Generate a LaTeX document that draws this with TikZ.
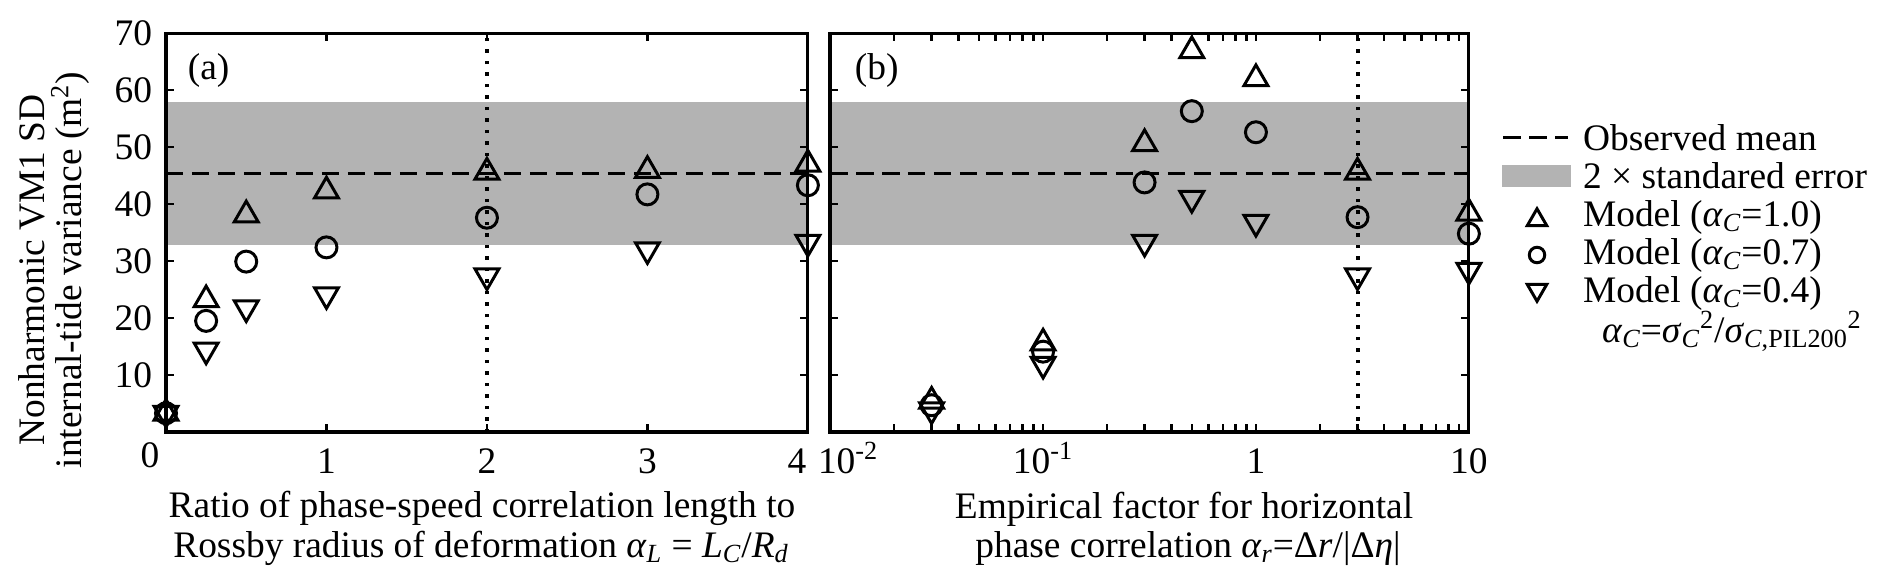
\documentclass[tikz,border=0pt]{standalone}
\usepackage{fontspec}
\setmainfont{Liberation Serif}
\usetikzlibrary{shapes.geometric}
\definecolor{bandgrey}{RGB}{179,179,179}
\newcommand{\lbl}{\fontsize{21.3}{22.8}\selectfont}
\newcommand{\alC}{\textit{α}\textsubscript{\textit{C}}}
\tikzset{
  axisline/.style={line width=1.8pt},
  tickmark/.style={line width=1.5pt},
  mk/.style={draw, line width=1.7pt, inner sep=0pt, outer sep=0pt},
  up/.style={mk, regular polygon, regular polygon sides=3, minimum size=0.55cm},
  dn/.style={up, shape border rotate=180},
  ring/.style={mk, circle, minimum size=0.42cm},
  keyup/.style={up, minimum size=0.45cm},
  keydn/.style={dn, minimum size=0.45cm},
  keyring/.style={ring, minimum size=0.31cm},
  meanline/.style={line width=1.7pt, dash pattern=on 0.35cm off 0.17cm},
  refline/.style={line width=2.3pt, dash pattern=on 0.07cm off 0.16cm},
  txt/.style={font=\lbl, inner sep=0pt, outer sep=0pt},
}
\begin{document}
\begin{tikzpicture}[x=0.02cm, y=-0.02cm]
\useasboundingbox (0,0) rectangle (1892,586);
% y label, shared by both panels
\node[txt, rotate=90, align=center] (ylab) at (54,270)
  {Nonharmonic VM1 SD\\[-1.5pt]internal-tide variance (m\textsuperscript{2})};

% ---- panel (a)
\begin{scope}[shift={(166,432)}, x=3.21cm, y=0.114cm]
\fill[bandgrey] (0,32.9) rectangle (4,57.9);
\draw[meanline] (0,45.4) -- (4,45.4);
\draw[refline] (2,0) -- (2,70);
\foreach \v in {10,20,...,60}
  \draw[tickmark] (0,\v) -- ++(0.16cm,0) (4,\v) -- ++(-0.16cm,0);
\foreach \u in {1,2,3}
  \draw[tickmark] (\u,0) -- ++(0,0.16cm) (\u,70) -- ++(0,-0.16cm);
\foreach \u/\t/\o/\d [count=\i] in {0/3.3/3.3/3.3, 0.25/23.2/19.5/14.4,
    0.5/38.1/29.9/21.8, 1/42.3/32.4/24.1, 2/45.6/37.6/27.4,
    3/45.9/41.7/32.0, 4/47.0/43.3/33.3}{
  \node[up] (a-up-\i) at (\u,\t) {};
  \node[ring] (a-ring-\i) at (\u,\o) {};
  \node[dn] (a-dn-\i) at (\u,\d) {};
}
\draw[axisline] (0,0) rectangle (4,70);
\foreach \v in {10,20,...,70}
  \node[txt, anchor=east, xshift=-0.28cm] (a-yt-\v) at (0,\v) {\v};
\node[txt, anchor=base, xshift=-0.32cm, yshift=-0.71cm] (a-xt-0) at (0,0) {0};
\foreach \u in {1,2,3}
  \node[txt, anchor=base, yshift=-0.82cm] (a-xt-\u) at (\u,0) {\u};
\node[txt, anchor=base, xshift=-0.22cm, yshift=-0.82cm] (a-xt-4) at (4,0) {4};
\node[txt, anchor=base west] (a-tag) at (0.136,61.8) {(a)};
\end{scope}
\node[txt, anchor=base] (a-xl1) at (482,517) {Ratio of phase-speed correlation length to};
\node[txt, anchor=base] (a-xl2) at (481,557) {Rossby radius of deformation
  \textit{α}\textsubscript{\textit{L}} = \textit{L}\textsubscript{\textit{C}}/\textit{R}\textsubscript{\textit{d}}};

% ---- panel (b), x is log10 of the factor plus 2
\begin{scope}[shift={(830,432)}, x=4.26cm, y=0.114cm]
\fill[bandgrey] (0,32.9) rectangle (3,57.9);
\draw[meanline] (0,45.4) -- (3,45.4);
\draw[refline] ({log10(3)+2},0) -- ({log10(3)+2},70);
\foreach \v in {10,20,...,60}
  \draw[tickmark] (0,\v) -- ++(0.16cm,0) (3,\v) -- ++(-0.16cm,0);
\foreach \u in {1,2}
  \draw[tickmark] (\u,0) -- ++(0,0.16cm) (\u,70) -- ++(0,-0.16cm);
\foreach \dd in {0,1,2}
  \foreach \k in {2,...,9}{
    \pgfmathsetmacro\mx{\dd+log10(\k)}
    \draw[tickmark] (\mx,0) -- ++(0,0.16cm) (\mx,70) -- ++(0,-0.16cm);
  }
\foreach \r/\t/\o/\d [count=\i] in {0.03/5.4/4.7/3.9, 0.1/15.6/14.1/11.9,
    0.3/50.6/43.8/33.3, 0.5/66.9/56.3/41.0, 1/62.0/52.6/36.8,
    3/45.6/37.7/27.4, 10/38.4/34.8/28.4}{
  \pgfmathsetmacro\lx{log10(\r)+2}
  \node[up] (b-up-\i) at (\lx,\t) {};
  \node[ring] (b-ring-\i) at (\lx,\o) {};
  \node[dn] (b-dn-\i) at (\lx,\d) {};
}
\draw[axisline] (0,0) rectangle (3,70);
\node[txt, anchor=base west, xshift=-0.24cm, yshift=-0.82cm] (b-xt-0) at (0,0) {10\textsuperscript{-2}};
\node[txt, anchor=base, yshift=-0.82cm] (b-xt-1) at (1,0) {10\textsuperscript{-1}};
\node[txt, anchor=base, yshift=-0.82cm] (b-xt-2) at (2,0) {1};
\node[txt, anchor=base, yshift=-0.82cm] (b-xt-3) at (3,0) {10};
\node[txt, anchor=base west] (b-tag) at (0.117,61.8) {(b)};
\end{scope}
\node[txt, anchor=base] (b-xl1) at (1184,518) {Empirical factor for horizontal};
\node[txt, anchor=base] (b-xl2) at (1188,557) {phase correlation
  \textit{α}\textsubscript{\textit{r}}=Δ\textit{r}/|Δ\textit{η}|};

% ---- legend
\draw[meanline] (1503,137) -- (1568,137);
\fill[bandgrey] (1502,165) rectangle (1571,187);
\node[keyup] (key-up) at (1537,220) {};
\node[keyring] (key-ring) at (1537,255) {};
\node[keydn] (key-dn) at (1537,290) {};
\node[txt, anchor=base west] (key-1) at (1583,150) {Observed mean};
\node[txt, anchor=base west] (key-2) at (1583,188) {2 × standared error};
\node[txt, anchor=base west] (key-3) at (1583,226) {Model (\alC=1.0)};
\node[txt, anchor=base west] (key-4) at (1583,264) {Model (\alC=0.7)};
\node[txt, anchor=base west] (key-5) at (1583,302) {Model (\alC=0.4)};
\node[txt, anchor=base west] (key-6) at (1602,342)
  {\alC=\textit{σ}\textsubscript{\textit{C}}\textsuperscript{2}/\textit{σ}\textsubscript{\textit{C},PIL200}\textsuperscript{2}};
\end{tikzpicture}
\end{document}
